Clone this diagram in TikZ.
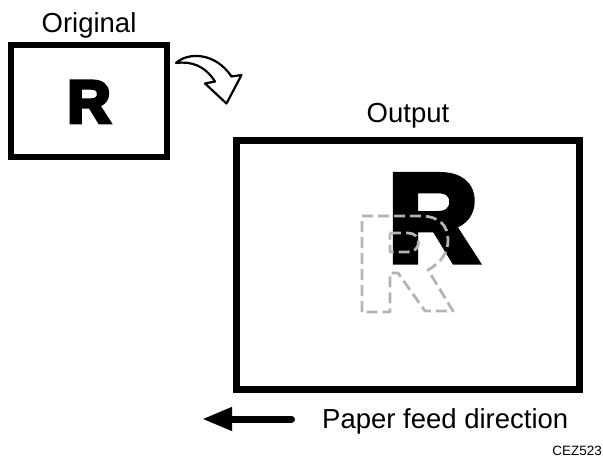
\documentclass[tikz,border=0pt]{standalone}
\usepackage{fontspec}
\setmainfont{Liberation Sans}
\newfontface\heavyfont{Liberation Sans Bold}[FakeBold=6]
\usepackage{tikz}
\usetikzlibrary{positioning,arrows.meta}
\usepackage{xcolor}
\definecolor{ink}{HTML}{000000}
\definecolor{ghost}{HTML}{B4B4B4}
\tikzset{sheet/.style={draw=ink,fill=white,inner sep=0pt},
  lbl/.style={inner sep=0pt,font=\fontsize{27.5}{33}\selectfont},
  letterR/.style={inner sep=0pt,text=ink,font=\heavyfont\fontsize{#1}{#1}\selectfont}}

\begin{document}
\begin{tikzpicture}[x=1pt,y=-1pt,>=Latex]
    \useasboundingbox(0,0)rectangle(603,460);
    % original sheet and its label
    \node[sheet,line width=6pt,minimum width=156pt,minimum height=112pt](orig)at(89,101){};
    \node[lbl,above=4pt of orig](origlbl){Original};
    \node[letterR=60,anchor=base](origR)at(89,122.5){R};
    % turning arrow
    \draw[line width=2.2pt,fill=white,line join=round](176,63)..controls(188,52)and(215,52)..(231.5,76.5)--(241.5,75)--(226.5,103.5)--(205,83.5)--(215,81.5)..controls(205,66)and(192,61)..(176,63)--cycle;
    % output sheet
    \node[sheet,line width=7pt,minimum width=343pt,minimum height=249pt](outsheet)at(408,265){};
    \node[lbl,above=9pt of outsheet](outlbl){Output};
    \node[letterR=124,anchor=base](outR)at(433,261){R};
    \draw[ghost,line width=2.8pt,dash pattern=on 11pt off 5pt,line join=round]
      (362,312)--(362,216)--(420,216)..controls(440,216)and(448,226)..(448,240)..controls(448,252)and(442,262)..(428,270)--(453,311)--(425,311)--(398,273)--(390,273)--(390,312)--cycle
      (390,233)--(408,233)..controls(422,233)and(422,252)..(408,252)--(390,252)--cycle;
    % feed direction
    \coordinate(feedtail)at(291.5,419);\coordinate(feedhead)at(202,419);
    \draw[line width=7pt,line cap=round,-{Triangle[length=30pt,width=22pt]}](feedtail)--(feedhead);
    \node[lbl,anchor=base west](feedlbl)at(322,428){Paper feed direction};
    \node[inner sep=0pt,anchor=base east,font=\fontsize{13.5}{16}\selectfont](code)at(602,455){CEZ523};
  \end{tikzpicture}
\end{document}
